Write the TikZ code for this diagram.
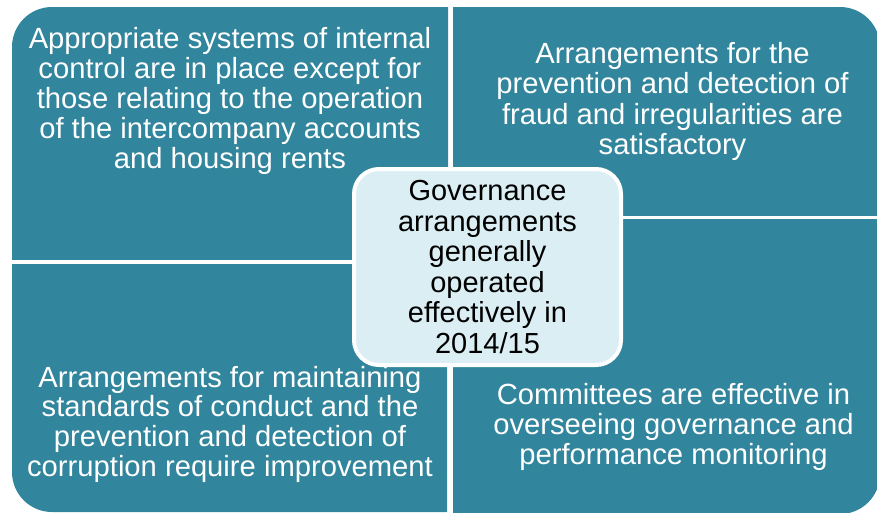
\documentclass[tikz,border=0pt]{standalone}
\usepackage{fontspec}
\setmainfont{Liberation Sans}
\definecolor{quad}{RGB}{49,133,156}
\definecolor{centerfill}{RGB}{218,238,243}
\tikzset{
  quadfill/.style={fill=quad},
  quadtext/.style={text=white, align=center, font=\fontsize{29.2}{30}\selectfont, inner sep=0pt},
  centerbox/.style={draw=white, line width=4pt, fill=centerfill, rounded corners=25pt,
    minimum width=267pt, minimum height=196pt, inner sep=0pt},
  centertext/.style={text=black, align=center, font=\fontsize{29}{30.6}\selectfont, inner sep=0pt}
}
\begin{document}
\begin{tikzpicture}[x=1pt,y=-1pt]
\useasboundingbox (0,0) rectangle (877,512);
% top-left
\begin{scope}
\clip (12,7) rectangle (448,259);
\fill[quadfill, rounded corners=40pt] (12,7) rectangle (600,400);
\end{scope}
% top-right
\begin{scope}
\clip (453,7) rectangle (880,215);
\fill[quadfill, rounded corners=40pt] (300,7) rectangle (880,400);
\end{scope}
% bottom-left
\begin{scope}
\clip (12,264) rectangle (447,512);
\fill[quadfill, rounded corners=40pt] (12,100) rectangle (600,512);
\end{scope}
% bottom-right
\begin{scope}
\clip (453,219) rectangle (880,514);
\fill[quadfill, rounded corners=40pt] (300,100) rectangle (880,514);
\end{scope}
\node[quadtext] (tl) at (230,100.5) {Appropriate systems of internal\\control are in place except for\\those relating to the operation\\of the intercompany accounts\\and housing rents};
\node[quadtext, font=\fontsize{29.2}{30.5}\selectfont] (tr) at (672.5,101.5) {Arrangements for the\\prevention and detection of\\fraud and irregularities are\\satisfactory};
\node[quadtext, font=\fontsize{29.2}{29.7}\selectfont] (bl) at (230,424) {Arrangements for maintaining\\standards of conduct and the\\prevention and detection of\\corruption require improvement};
\node[quadtext] (br) at (673.5,426.5) {Committees are effective in\\overseeing governance and\\performance monitoring};
\node[centerbox] (c) at (487.5,267) {};
\node[centertext] (ct) at (c.center) {Governance\\arrangements\\generally\\operated\\effectively in\\2014/15};
\end{tikzpicture}
\end{document}
